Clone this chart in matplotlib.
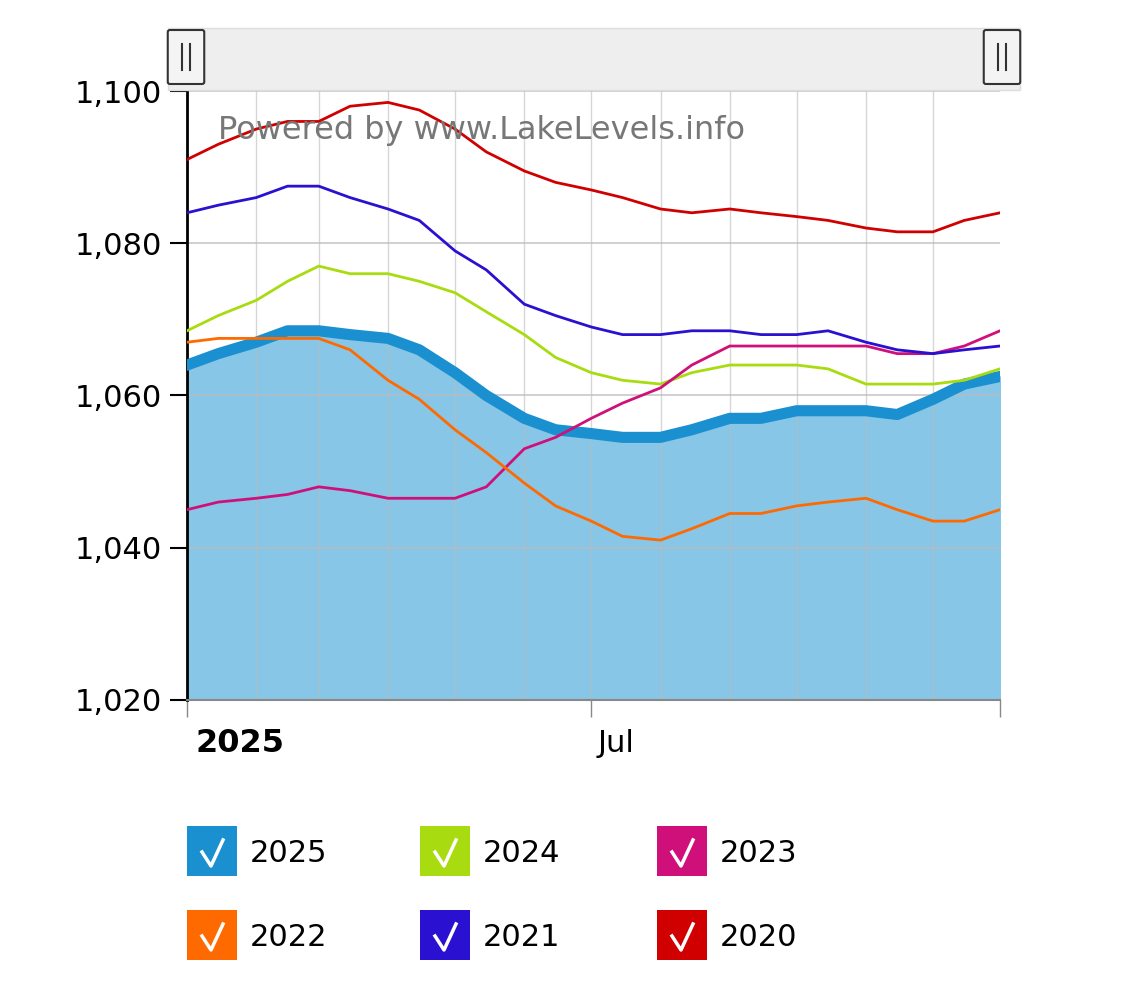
import numpy as np
import matplotlib.pyplot as plt
from matplotlib.patches import Rectangle, FancyBboxPatch

# day-of-year positions of sampled points
DAYS = [0, 14, 31, 45, 59, 73, 90, 104, 120, 134, 151, 165, 181, 195, 212, 226,
        243, 257, 273, 287, 304, 318, 334, 348, 364]

lvl_2020 = [1091, 1093, 1095, 1096, 1096, 1098, 1098.5, 1097.5, 1095, 1092, 1089.5, 1088, 1087,
            1086, 1084.5, 1084, 1084.5, 1084, 1083.5, 1083, 1082, 1081.5, 1081.5, 1083, 1084]
lvl_2021 = [1084, 1085, 1086, 1087.5, 1087.5, 1086, 1084.5, 1083, 1079, 1076.5, 1072, 1070.5, 1069,
            1068, 1068, 1068.5, 1068.5, 1068, 1068, 1068.5, 1067, 1066, 1065.5, 1066, 1066.5]
lvl_2022 = [1067, 1067.5, 1067.5, 1067.5, 1067.5, 1066, 1062, 1059.5, 1055.5, 1052.5, 1048.5, 1045.5, 1043.5,
            1041.5, 1041, 1042.5, 1044.5, 1044.5, 1045.5, 1046, 1046.5, 1045, 1043.5, 1043.5, 1045]
lvl_2023 = [1045, 1046, 1046.5, 1047, 1048, 1047.5, 1046.5, 1046.5, 1046.5, 1048, 1053, 1054.5, 1057,
            1059, 1061, 1064, 1066.5, 1066.5, 1066.5, 1066.5, 1066.5, 1065.5, 1065.5, 1066.5, 1068.5]
lvl_2024 = [1068.5, 1070.5, 1072.5, 1075, 1077, 1076, 1076, 1075, 1073.5, 1071, 1068, 1065, 1063,
            1062, 1061.5, 1063, 1064, 1064, 1064, 1063.5, 1061.5, 1061.5, 1061.5, 1062, 1063.5]
lvl_2025 = [1064, 1065.5, 1067, 1068.5, 1068.5, 1068, 1067.5, 1066, 1063, 1060, 1057, 1055.5, 1055,
            1054.5, 1054.5, 1055.5, 1057, 1057, 1058, 1058, 1058, 1057.5, 1059.5, 1061.5, 1062.5]

MONTH_STARTS = [31, 59, 90, 120, 151, 181, 212, 243, 273, 304, 334]
YTICKS = [1020, 1040, 1060, 1080, 1100]

fig = plt.figure(figsize=(11.25, 9.97), dpi=100)
ax = fig.add_axes([187 / 1125, 1 - 700 / 997, 813 / 1125, 609 / 997])

ax.fill_between(DAYS, 1020, lvl_2025, color='#87c6e6', zorder=1)
ax.plot(DAYS, lvl_2025, color='#1a90d0', lw=8, zorder=3)
series = [(lvl_2024, '#a8dc10'), (lvl_2023, '#d0107a'), (lvl_2022, '#ff6a00'),
          (lvl_2021, '#2a10d0'), (lvl_2020, '#d00000')]
for vals, col in series:
    ax.plot(DAYS, vals, color=col, lw=2, zorder=4)

for d in MONTH_STARTS:
    ax.axvline(d, color='#bbbbbb', lw=1, alpha=0.6, zorder=2)
for y in YTICKS:
    ax.axhline(y, color='#bbbbbb', lw=1.2, alpha=0.8, zorder=2)

ax.set_xlim(0, 364)
ax.set_ylim(1020, 1100)
ax.set_yticks(YTICKS)
ax.set_yticklabels([f'{v:,}' for v in YTICKS], fontsize=22)
ax.set_xticks([0, 181, 364])
ax.set_xticklabels([])
ax.tick_params(axis='y', length=12, width=1.5, pad=6)
ax.tick_params(axis='x', length=12, width=1, color='#888888')
for s in ['top', 'right']:
    ax.spines[s].set_visible(False)
ax.spines['left'].set_linewidth(2)
ax.spines['bottom'].set_color('#888888')
ax.spines['bottom'].set_linewidth(1.5)

ax.text(4, 1014.3, '2025', fontsize=23, fontweight='bold', va='center')
ax.text(184, 1014.3, 'Jul', fontsize=22, va='center')
ax.text(14, 1094.8, 'Powered by www.LakeLevels.info', fontsize=23, color='#777777', va='center', zorder=5)

# scrollbar
fig.patches.append(Rectangle((168 / 1125, 1 - 90 / 997), 852 / 1125, 62 / 997,
                             transform=fig.transFigure, facecolor='#eeeeee', edgecolor='#dddddd'))
for xc in [186, 1002]:
    fig.patches.append(FancyBboxPatch(((xc - 16) / 1125, 1 - 82 / 997), 32 / 1125, 50 / 997,
                                      boxstyle='round,pad=0.002', transform=fig.transFigure,
                                      facecolor='#f4f4f4', edgecolor='#333333', lw=1.5))
    for dx in (-4, 4):
        fig.lines.append(plt.Line2D([(xc + dx) / 1125] * 2, [1 - 70 / 997, 1 - 44 / 997],
                                    transform=fig.transFigure, color='#333333', lw=1.5))

# legend
legend = [('2025', '#1a90d0'), ('2024', '#a8dc10'), ('2023', '#d0107a'),
          ('2022', '#ff6a00'), ('2021', '#2a10d0'), ('2020', '#d00000')]
cols = [187, 420, 657]
rows = [826, 910]
for i, (lab, col) in enumerate(legend):
    x0 = cols[i % 3]
    y0 = rows[i // 3]
    fig.patches.append(Rectangle((x0 / 1125, 1 - (y0 + 50) / 997), 50 / 1125, 50 / 997,
                                 transform=fig.transFigure, facecolor=col, edgecolor='none'))
    fig.lines.append(plt.Line2D([(x0 + 15) / 1125, (x0 + 24) / 1125, (x0 + 36) / 1125],
                                [1 - (y0 + 26) / 997, 1 - (y0 + 40) / 997, 1 - (y0 + 14) / 997],
                                transform=fig.transFigure, color='white', lw=2.5))
    fig.text((x0 + 63) / 1125, 1 - (y0 + 27) / 997, lab, fontsize=22, va='center')

fig.savefig('out.png', dpi=100)
